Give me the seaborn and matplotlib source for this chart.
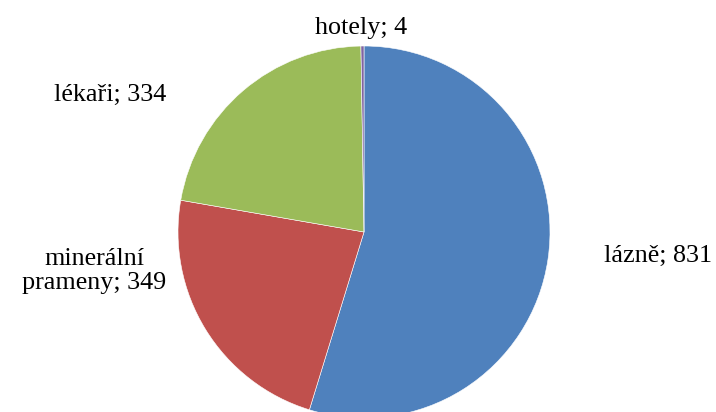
import matplotlib
matplotlib.use("Agg")
import matplotlib.pyplot as plt
import seaborn as sns

# Počet záznamů podle kategorie
categories = ["lázně", "minerální\nprameny", "lékaři", "hotely"]
values = [831, 349, 334, 4]
colors = ["#4F81BD", "#C0504D", "#9BBB59", "#8064A2"]

sns.set_theme(style="white")
plt.rcParams["font.family"] = ["Liberation Serif", "DejaVu Serif"]

W, H = 716, 412
fig = plt.figure(figsize=(W / 100, H / 100), dpi=100)
ax = fig.add_axes([0, 0, 1, 1])

# Work in pixel units so the pie sits exactly where wanted
cx, cy, r = 364, 180, 186
wedges, _ = ax.pie(values, colors=colors, startangle=90, counterclock=False,
                   radius=r, center=(cx, cy),
                   wedgeprops=dict(edgecolor="white", linewidth=0.4))
ax.set_xlim(0, W)
ax.set_ylim(0, H)
ax.set_aspect("equal")
ax.axis("off")

label_pos = [(658, 156), (94, 141), (110, 317), (361, 384)]
for name, val, (x, y) in zip(categories, values, label_pos):
    ax.text(x, y, f"{name}; {val}", ha="center", va="center",
            fontsize=18.8, color="black", linespacing=1.15)

fig.savefig("out.png", dpi=100)
